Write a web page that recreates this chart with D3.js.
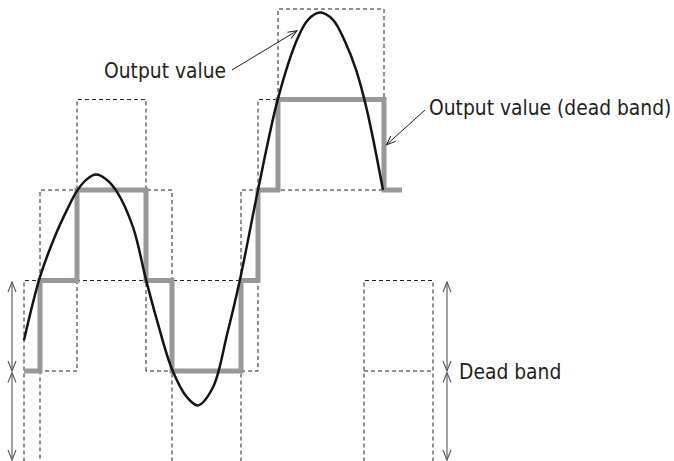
<!DOCTYPE html>
<html>
<head>
<meta charset="utf-8">
<script src="https://cdn.jsdelivr.net/npm/d3@7"></script>
<style>
  html, body { margin: 0; padding: 0; background: #fff; }
  svg { display: block; }
</style>
</head>
<body>
<svg id="chart" width="674" height="461"></svg>
<script>
// Input signal samples: time and value, value expressed in dead-band units
const inputTime  = [0, 16, 31, 43, 53, 63, 72, 82, 93, 109, 122, 133, 148, 163, 174, 189, 203, 216, 234, 254, 273, 284, 296, 309, 321, 332, 343, 359];
const inputValue = [0.34, 1.04, 1.49, 1.78, 1.99, 2.12, 2.17, 2.12, 1.98, 1.59, 1.01, 0.56, 0.02, -0.29, -0.38, -0.18, 0.40, 1.01, 2.00, 3.01, 3.66, 3.88, 3.96, 3.88, 3.64, 3.33, 2.88, 2.00];

// Output with dead band: held level between change times
const stepStart = [0, 16, 53, 122, 148, 217, 234, 254, 360];
const stepEnd   = [16, 53, 122, 148, 217, 234, 254, 360, 378];
const stepLevel = [0, 1, 2, 1, 0, 1, 2, 3, 2];

// Steps that get a band frame (level ± one dead band); open ones show only top and left edges
const framedSteps = [0, 1, 2, 3, 4, 5, 6, 7];
const openFrames  = [6];

// Key frame illustrating one dead band either side of a level
const keyStart = 340;
const keyEnd   = 409;
const keyLevel = 0;

const labels = ["Output value", "Output value (dead band)", "Dead band"];

// ---------------------------------------------------------------------------
const W = 674, H = 461;
const x = d3.scaleLinear().domain([0, 378]).range([24, 402]);
const y = d3.scaleLinear().domain([-1, 4]).range([461.5, 9]);

const svg = d3.select("#chart");
const defs = svg.append("defs");

function vHead(id, len, half, color, width) {
  defs.append("marker")
    .attr("id", id)
    .attr("markerUnits", "userSpaceOnUse")
    .attr("viewBox", `${-len - 1} ${-half - 1} ${len + 2} ${2 * half + 2}`)
    .attr("refX", 0).attr("refY", 0)
    .attr("markerWidth", len + 2).attr("markerHeight", 2 * half + 2)
    .attr("orient", "auto-start-reverse")
    .append("path")
    .attr("d", `M${-len},${-half} L0,0 L${-len},${half}`)
    .attr("fill", "none")
    .attr("stroke", color)
    .attr("stroke-width", width);
}
vHead("bandHead", 10, 4, "#555", 1.1);
vHead("noteHead", 9, 3.6, "#222", 1);

const dash = "4,3";
const frames = svg.append("g")
  .attr("fill", "none")
  .attr("stroke", "#222")
  .attr("stroke-width", 1)
  .attr("stroke-dasharray", dash);

framedSteps.forEach(i => {
  const x0 = x(stepStart[i]), x1 = x(stepEnd[i]);
  const yTop = y(stepLevel[i] + 1), yBot = y(stepLevel[i] - 1);
  const d = openFrames.includes(i)
    ? `M${x0},${yBot} V${yTop} H${x1}`
    : `M${x0},${yBot} V${yTop} H${x1} V${yBot} Z`;
  frames.append("path").attr("d", d);
});

// key frame with its centre line
{
  const x0 = x(keyStart), x1 = x(keyEnd);
  frames.append("path")
    .attr("d", `M${x0},${y(keyLevel - 1)} V${y(keyLevel + 1)} H${x1} V${y(keyLevel - 1)}`);
  frames.append("path")
    .attr("d", `M${x0},${y(keyLevel)} H${x1}`);
}

// dead-band output staircase
const stepPts = stepStart.map((s, i) => [s, stepLevel[i]]);
stepPts.push([stepEnd[stepEnd.length - 1], stepLevel[stepLevel.length - 1]]);
svg.append("path")
  .datum(stepPts)
  .attr("d", d3.line().x(d => x(d[0])).y(d => y(d[1])).curve(d3.curveStepAfter))
  .attr("fill", "none")
  .attr("stroke", "#97989b")
  .attr("stroke-width", 5)
  .attr("stroke-linejoin", "miter");

// input signal
svg.append("path")
  .datum(inputTime.map((t, i) => [t, inputValue[i]]))
  .attr("d", d3.line().x(d => x(d[0])).y(d => y(d[1])).curve(d3.curveCatmullRom.alpha(0.5)))
  .attr("fill", "none")
  .attr("stroke", "#141414")
  .attr("stroke-width", 2.5);

// dead-band dimension arrows
function bandArrows(px) {
  const g = svg.append("g").attr("stroke", "#555").attr("stroke-width", 1.1);
  [[keyLevel + 1, keyLevel], [keyLevel, keyLevel - 1]].forEach(([a, b]) => {
    const ya = y(a) + 1.5, yb = y(b) + (b === keyLevel - 1 ? -1.5 : 0);
    g.append("line")
      .attr("x1", px).attr("x2", px)
      .attr("y1", ya).attr("y2", yb)
      .attr("marker-start", "url(#bandHead)")
      .attr("marker-end", "url(#bandHead)");
  });
}
bandArrows(12);
bandArrows(x(keyEnd) + 14);

// annotations
const font = '"DejaVu Sans Condensed", "DejaVu Sans", sans-serif';
const text = svg.append("g")
  .attr("font-family", font)
  .attr("font-size", 20.8)
  .attr("fill", "#231f20");

text.append("text").attr("x", 104).attr("y", 78).text(labels[0]);
text.append("text").attr("x", 429).attr("y", 115).text(labels[1]);
text.append("text").attr("x", x(keyEnd) + 26).attr("y", y(keyLevel) + 8).text(labels[2]);

const notes = svg.append("g").attr("stroke", "#222").attr("stroke-width", 1);
notes.append("line")
  .attr("x1", 232).attr("y1", 70)
  .attr("x2", x(273)).attr("y2", y(3.76))
  .attr("marker-end", "url(#noteHead)");
notes.append("line")
  .attr("x1", 425).attr("y1", 110)
  .attr("x2", x(362.5)).attr("y2", y(2.50))
  .attr("marker-end", "url(#noteHead)");
</script>
</body>
</html>
